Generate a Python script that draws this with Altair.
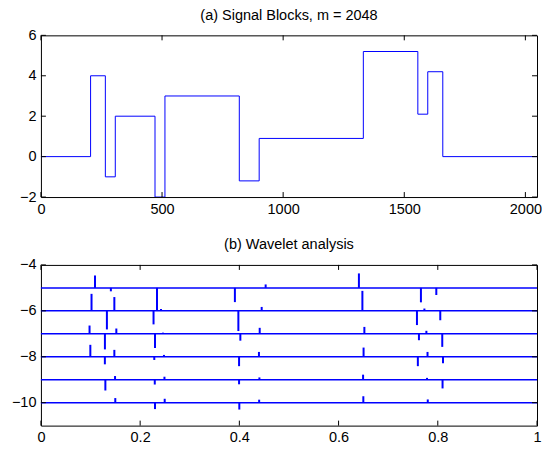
import altair as alt
import pandas as pd

# ---- (a) Blocks signal: sample index of each jump and the level held after it
jump_idx = [0, 205, 266, 307, 471, 512, 819, 901, 1331, 1556, 1597, 1659, 2048]
block_val = [0, 4, -1, 2, -2, 3, -1.2, 0.9, 5.2, 2.1, 4.2, 0, 0]

sig_xticks = [0, 500, 1000, 1500, 2000]
sig_yticks = [-2, 0, 2, 4, 6]

# ---- (b) wavelet coefficients, one baseline per level: stem positions and heights
levels = [-5, -6, -7, -8, -9, -10]

lev5_pos = [0.109, 0.141, 0.234, 0.391, 0.453, 0.641, 0.766, 0.797]
lev5_val = [0.54, -0.15, -0.98, -0.62, 0.15, 0.63, -0.63, -0.31]

lev6_pos = [0.102, 0.133, 0.148, 0.227, 0.242, 0.398, 0.445, 0.648, 0.758, 0.773, 0.805]
lev6_val = [0.74, -0.81, 0.60, -0.59, 0.08, -0.88, 0.17, 0.87, -0.62, 0.10, -0.41]

lev7_pos = [0.098, 0.129, 0.152, 0.230, 0.246, 0.402, 0.441, 0.652, 0.762, 0.777, 0.809]
lev7_val = [0.36, -0.68, 0.23, -0.62, 0.05, -0.30, 0.26, 0.30, -0.28, 0.13, -0.57]

lev8_pos = [0.0996, 0.1289, 0.148, 0.2285, 0.248, 0.3994, 0.4395, 0.6504, 0.7598, 0.7793, 0.8105]
lev8_val = [0.52, -0.33, 0.30, -0.14, 0.08, -0.41, 0.21, 0.40, -0.41, 0.21, -0.28]

lev9_pos = [0.1299, 0.1494, 0.2295, 0.249, 0.3994, 0.4404, 0.6494, 0.7783, 0.8096]
lev9_val = [-0.47, 0.16, -0.21, 0.13, -0.20, 0.10, 0.22, 0.08, -0.38]

lev10_pos = [0.1499, 0.2300, 0.2495, 0.3999, 0.4399, 0.6499, 0.7798]
lev10_val = [0.20, -0.28, 0.17, -0.30, 0.13, 0.28, 0.14]

wav_xticks = [0, 0.2, 0.4, 0.6, 0.8, 1]
wav_yticks = [-10, -8, -6, -4]

# ---- layout / style
W, H1, H2 = 497, 162, 161
BLUE = "#0000ff"
FONT = "Liberation Sans"
FS = 14.5
TICK = 5


def box_ticks(xvals, yvals, xscale, yscale, xaxis, yaxis, h):
    """Inward ticks on all four sides of the frame."""
    xt = pd.DataFrame({"t": xvals})
    yt = pd.DataFrame({"t": yvals})
    xenc = alt.X("t:Q", scale=xscale, axis=xaxis)
    yenc = alt.Y("t:Q", scale=yscale, axis=yaxis)
    bottom = alt.Chart(xt).mark_rule(color="black", strokeWidth=1).encode(
        x=xenc, y=alt.value(h), y2=alt.value(h - TICK))
    top = alt.Chart(xt).mark_rule(color="black", strokeWidth=1).encode(
        x=xenc, y=alt.value(0), y2=alt.value(TICK))
    left = alt.Chart(yt).mark_rule(color="black", strokeWidth=1).encode(
        y=yenc, x=alt.value(0), x2=alt.value(TICK))
    right = alt.Chart(yt).mark_rule(color="black", strokeWidth=1).encode(
        y=yenc, x=alt.value(W), x2=alt.value(W - TICK))
    return [bottom, top, left, right]


# ---- panel (a)
xs1 = alt.Scale(domain=[0, 2048], nice=False, zero=False)
ys1 = alt.Scale(domain=[-2, 6], nice=False, zero=False)
xa1 = alt.Axis(values=sig_xticks, title=None, format="d")
ya1 = alt.Axis(values=sig_yticks, title=None)

sig = pd.DataFrame({"n": jump_idx, "v": block_val})
signal = alt.Chart(sig).mark_line(
    interpolate="step-after", color=BLUE, strokeWidth=1, clip=True
).encode(
    x=alt.X("n:Q", scale=xs1, axis=xa1),
    y=alt.Y("v:Q", scale=ys1, axis=ya1),
)

panel_a = alt.layer(signal, *box_ticks(sig_xticks, sig_yticks, xs1, ys1, xa1, ya1, H1)).properties(
    width=W, height=H1,
    title=alt.Title("(a) Signal Blocks, m = 2048", fontSize=FS, fontWeight="normal",
                    font=FONT, color="black", offset=4),
)

# ---- panel (b)
xs2 = alt.Scale(domain=[0, 1], nice=False, zero=False)
ys2 = alt.Scale(domain=[-11, -4], nice=False, zero=False)
xa2 = alt.Axis(values=wav_xticks, title=None, format="~g")
ya2 = alt.Axis(values=wav_yticks, title=None)

rows = []
for lev, pos, val in [(-5, lev5_pos, lev5_val), (-6, lev6_pos, lev6_val),
                      (-7, lev7_pos, lev7_val), (-8, lev8_pos, lev8_val),
                      (-9, lev9_pos, lev9_val), (-10, lev10_pos, lev10_val)]:
    for p, v in zip(pos, val):
        rows.append({"pos": p, "base": lev, "tip": lev + v})
stems_df = pd.DataFrame(rows)

baselines = alt.Chart(pd.DataFrame({"lev": levels})).mark_rule(
    color=BLUE, strokeWidth=1.5
).encode(y=alt.Y("lev:Q", scale=ys2, axis=ya2))

stems = alt.Chart(stems_df).mark_rule(color=BLUE, strokeWidth=2).encode(
    x=alt.X("pos:Q", scale=xs2, axis=xa2),
    y=alt.Y("base:Q", scale=ys2, axis=ya2),
    y2="tip:Q",
)

panel_b = alt.layer(baselines, stems, *box_ticks(wav_xticks, wav_yticks, xs2, ys2, xa2, ya2, H2)).properties(
    width=W, height=H2,
    title=alt.Title("(b) Wavelet analysis", fontSize=FS, fontWeight="normal",
                    font=FONT, color="black", offset=4),
)

chart = alt.vconcat(panel_a, panel_b, spacing=68, bounds="flush").properties(
    padding={"left": 10, "top": 7, "right": 0, "bottom": 0},
    background="white",
).configure_view(
    stroke="black", strokeWidth=1
).configure_axis(
    ticks=False, domain=False, grid=False, labelFlush=False, labelOverlap=False,
    labelFont=FONT, labelFontSize=FS, labelColor="black", labelPadding=5,
)

chart.save("out.html", embed_options={"renderer": "svg", "actions": False})
